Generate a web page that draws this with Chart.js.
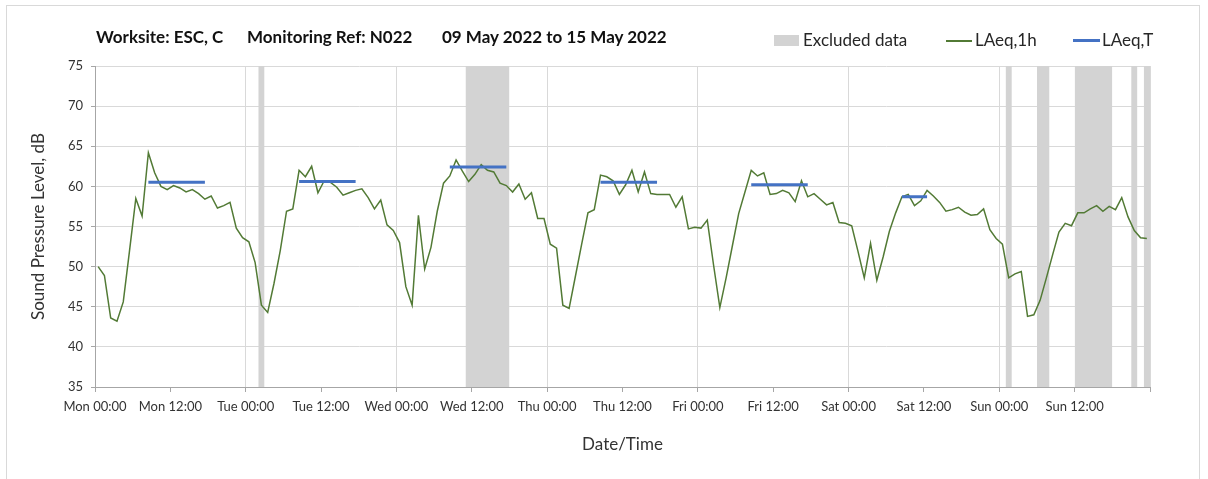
<!DOCTYPE html>
<html>
<head>
<meta charset="utf-8">
<script src="https://cdn.jsdelivr.net/npm/chart.js@4.4.1/dist/chart.umd.min.js"></script>
<style>
html,body{margin:0;padding:0;background:#fff;}
#wrap{position:relative;width:1208px;height:479px;overflow:hidden;font-family:Lato,"Open Sans",sans-serif;}
#frame{position:absolute;left:6px;top:5px;width:1194px;height:500px;border:1px solid #d9d9d9;box-sizing:border-box;}
#chart{position:absolute;left:0;top:0;}
.t{position:absolute;top:27px;font-weight:bold;font-size:17px;line-height:20px;color:#111;white-space:nowrap;}
.lg{position:absolute;top:30px;font-size:17px;line-height:20px;color:#262626;white-space:nowrap;}
.sw{position:absolute;}
</style>
</head>
<body>
<div id="wrap">
  <div id="frame"></div>
  <canvas id="chart" width="1208" height="479"></canvas>
  <div class="t" style="left:96px">Worksite: ESC, C</div>
  <div class="t" style="left:247px">Monitoring Ref: N022</div>
  <div class="t" style="left:442px">09 May 2022 to 15 May 2022</div>
  <div id="legend"></div>
</div>
<script>
// ---- data ----
const xTickLabels = ['Mon 00:00','Mon 12:00','Tue 00:00','Tue 12:00','Wed 00:00','Wed 12:00','Thu 00:00','Thu 12:00','Fri 00:00','Fri 12:00','Sat 00:00','Sat 12:00','Sun 00:00','Sun 12:00'];
const yRange = [35, 75];
const seriesNames = ['Excluded data', 'LAeq,1h', 'LAeq,T'];

// hourly LAeq,1h values, Mon 00:00 .. Sun 23:00
const laeq1h = [
  50.0, 48.9, 43.6, 43.2, 45.6, 52.0, 58.5, 56.3, 64.2, 61.7, 60.0, 59.6, 60.1, 59.8, 59.3, 59.6, 59.1, 58.4, 58.8, 57.3, 57.6, 58.0, 54.8, 53.6,
  53.1, 50.5, 45.2, 44.3, 47.9, 52.0, 56.9, 57.2, 62.0, 61.2, 62.5, 59.2, 60.7, 60.5, 59.9, 58.9, 59.2, 59.5, 59.7, 58.6, 57.2, 58.3, 55.2, 54.5,
  53.0, 47.5, 45.2, 56.4, 49.7, 52.4, 56.9, 60.4, 61.3, 63.3, 61.9, 60.6, 61.5, 62.7, 62.0, 61.8, 60.4, 60.1, 59.3, 60.3, 58.4, 59.2, 56.0, 56.0,
  52.8, 52.3, 45.2, 44.8, 48.8, 52.8, 56.7, 57.1, 61.4, 61.2, 60.7, 59.0, 60.2, 62.0, 59.3, 61.8, 59.1, 59.0, 59.0, 59.0, 57.4, 58.7, 54.7, 54.9,
  54.8, 55.8, 50.2, 44.9, 48.6, 52.6, 56.6, 59.3, 62.0, 61.3, 61.7, 59.0, 59.1, 59.5, 59.2, 58.1, 60.7, 58.7, 59.1, 58.4, 57.7, 58.0, 55.5, 55.4,
  55.1, 51.9, 48.6, 52.9, 48.3, 51.2, 54.4, 56.7, 58.7, 59.0, 57.6, 58.2, 59.5, 58.8, 58.0, 56.9, 57.1, 57.4, 56.8, 56.4, 56.5, 57.2, 54.6, 53.5,
  52.8, 48.6, 49.1, 49.4, 43.8, 44.0, 45.8, 48.6, 51.5, 54.3, 55.4, 55.1, 56.7, 56.7, 57.2, 57.6, 56.9, 57.5, 57.1, 58.6, 56.2, 54.5, 53.6, 53.5
];

// daytime LAeq,T periods (hour index from Mon 00:00)
const laeqTStartHour = [8, 32, 56, 80, 104, 128];
const laeqTEndHour   = [17, 41, 65, 89, 113, 132];
const laeqTValue     = [60.5, 60.6, 62.4, 60.5, 60.2, 58.7];

// excluded periods (hour from Mon 00:00)
const excludedStartHour = [26, 59, 145, 150, 156, 165, 167];
const excludedEndHour   = [27, 66, 146, 152, 162, 166, 168];

// ---- styles ----
const COL_EXCL = '#d3d3d3';
const COL_1H = '#527a35';
const COL_T = '#4472c4';
const FONT = 'Lato, "Open Sans", sans-serif';

// ---- build datasets from arrays ----
const hourData = laeq1h.map((v, i) => ({x: i + 0.5, y: v}));
const tData = [];
laeqTStartHour.forEach((s, k) => {
  const e = laeqTEndHour[k];
  tData.push({x: s + 0.5, y: laeqTValue[k]}, {x: e + 0.5, y: laeqTValue[k]}, {x: e + 0.5, y: null});
});
const exData = [];
excludedStartHour.forEach((s, k) => {
  const e = excludedEndHour[k];
  exData.push({x: s, y: yRange[1]}, {x: e, y: yRange[1]}, {x: e, y: null});
});

const chart = new Chart(document.getElementById('chart'), {
  type: 'line',
  data: {
    datasets: [
      {label: seriesNames[0], data: exData, fill: 'start', backgroundColor: COL_EXCL, borderColor: 'rgba(0,0,0,0)', borderWidth: 0, pointRadius: 0, spanGaps: false, order: 3},
      {label: seriesNames[1], data: hourData, borderColor: COL_1H, borderWidth: 1.5, pointRadius: 0, tension: 0, fill: false, order: 2},
      {label: seriesNames[2], data: tData, borderColor: COL_T, borderWidth: 3, pointRadius: 0, spanGaps: false, fill: false, order: 1}
    ]
  },
  options: {
    responsive: false,
    animation: false,
    devicePixelRatio: 1,
    layout: {padding: {top: 66, right: 58, bottom: 0, left: 0}},
    plugins: {legend: {display: false}, tooltip: {enabled: false}, title: {display: false}},
    scales: {
      x: {
        type: 'linear', min: 0, max: 168,
        afterFit: s => { s.height = 92; },
        ticks: {stepSize: 12, autoSkip: false, maxRotation: 0, padding: 7, color: '#333',
          font: {family: FONT, size: 13},
          callback: v => (xTickLabels[Math.round(v / 12)] || '')},
        grid: {
          color: c => (c.tick && c.tick.value % 24 === 0) ? '#d9d9d9' : 'rgba(0,0,0,0)',
          tickColor: '#a6a6a6', tickLength: 5, lineWidth: 1
        },
        border: {color: '#a6a6a6'},
        title: {display: true, text: 'Date/Time', color: '#333', font: {family: FONT, size: 17}, padding: {top: 0, bottom: 24}}
      },
      y: {
        min: yRange[0], max: yRange[1],
        afterFit: s => { s.width = 95; },
        ticks: {stepSize: 5, padding: 8, color: '#333', font: {family: FONT, size: 13}},
        grid: {color: '#d9d9d9', tickColor: '#a6a6a6', tickLength: 4},
        border: {color: '#a6a6a6'},
        title: {display: true, text: 'Sound Pressure Level, dB', color: '#333', font: {family: FONT, size: 17}, padding: {top: 28, bottom: 0}}
      }
    }
  }
});

// ---- legend (HTML) using dataset colours ----
const lg = document.getElementById('legend');
const ds = chart.data.datasets;
const items = [
  {sw: {left: 774, top: 35, width: 25, height: 11, background: ds[0].backgroundColor}, text: ds[0].label, left: 803},
  {sw: {left: 946, top: 40, width: 26, height: 1.5, background: ds[1].borderColor}, text: ds[1].label, left: 975},
  {sw: {left: 1073, top: 39, width: 27, height: 3, background: ds[2].borderColor}, text: ds[2].label, left: 1102}
];
items.forEach(it => {
  const s = document.createElement('div');
  s.className = 'sw';
  Object.entries(it.sw).forEach(([k, v]) => { s.style[k] = (typeof v === 'number') ? v + 'px' : v; });
  lg.appendChild(s);
  const t = document.createElement('div');
  t.className = 'lg';
  t.style.left = it.left + 'px';
  t.textContent = it.text;
  lg.appendChild(t);
});
</script>
</body>
</html>
